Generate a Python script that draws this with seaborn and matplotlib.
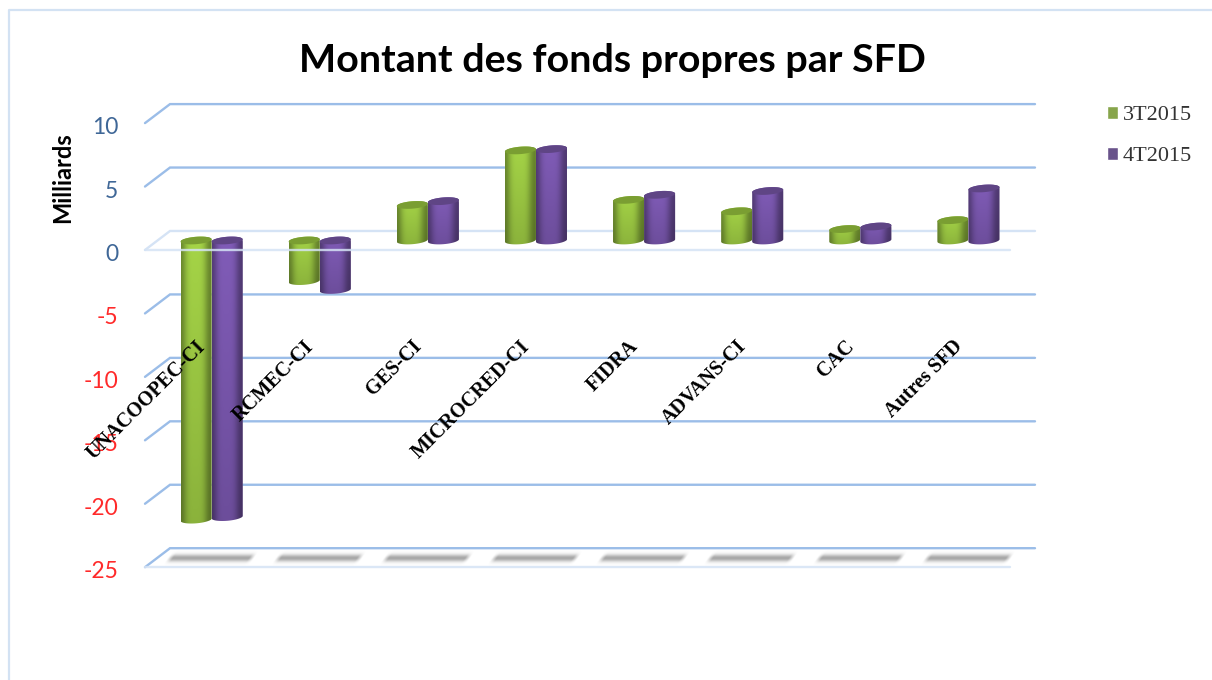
import numpy as np
import pandas as pd
import matplotlib
matplotlib.use('Agg')
import matplotlib.pyplot as plt
from matplotlib.path import Path
from matplotlib.transforms import ScaledTranslation
import seaborn as sns

categories = ['UNACOOPEC-CI', 'RCMEC-CI', 'GES-CI', 'MICROCRED-CI', 'FIDRA', 'ADVANS-CI', 'CAC', 'Autres SFD']
t3_2015 = [-22.0, -3.2, 2.8, 7.1, 3.2, 2.3, 0.9, 1.6]
t4_2015 = [-21.8, -3.9, 3.1, 7.2, 3.6, 3.9, 1.1, 4.1]
y_ticks = [10, 5, 0, -5, -10, -15, -20, -25]

W, H = 1212, 680
BLEU = '#9bbde8'
BLEU_CLAIR = '#d5e3f5'

df = pd.DataFrame({
    'sfd': categories * 2,
    'valeur': t3_2015 + t4_2015,
    'periode': ['3T2015'] * 8 + ['4T2015'] * 8,
})

sns.set_theme(style='white')
plt.rcParams['font.family'] = ['Lato', 'DejaVu Sans']

fig = plt.figure(figsize=(W / 100, H / 100), dpi=100)
# plan median du graphique 3D, en pixels de l'image
gauche, droite, haut, bas = 157.5, 1022.5, 113.6, 557.7
ax = fig.add_axes([gauche / W, 1 - bas / H, (droite - gauche) / W, (bas - haut) / H])

sns.barplot(data=df, x='sfd', y='valeur', hue='periode', order=categories,
            palette={'3T2015': '#8cb43c', '4T2015': '#674a94'},
            width=0.574, gap=0, dodge=True, ax=ax, zorder=3)
ax.set_xlim(-0.5, 7.5)
ax.set_ylim(-25, 10)
sns.despine(ax=ax, left=True, bottom=True, top=True, right=True)
ax.patch.set_alpha(0)
ax.set_xlabel('')

# decalage de profondeur en unites de donnees
dx = 12.5 / 108.1
dy = 9.5 / 12.69

# quadrillage en perspective
for v in y_ticks:
    couleur = BLEU_CLAIR if v == 0 else BLEU
    ax.plot([-0.5 - dx, -0.5 + dx, 7.5 + dx], [v - dy, v + dy, v + dy], color=couleur,
            lw=1.7, clip_on=False, zorder=1, solid_joinstyle='miter')
    if v in (0, -25):
        ax.plot([-0.5 - dx, 7.5 - dx], [v - dy, v - dy], color=BLEU_CLAIR, lw=1.7, alpha=0.85,
                clip_on=False, zorder=6 if v == 0 else 1)

# ombres au sol, legerement cisaillees
rgba = np.zeros((15, 100, 4))
rgba[..., :3] = 0.5
prof = np.exp(-np.linspace(-2.1, 2.1, 15) ** 2)
colonnes = np.arange(100)
for r in range(15):
    bord = np.clip(np.minimum(colonnes - (14 - r) * 0.8, 99 - r * 0.8 - colonnes) / 5, 0, 1)
    rgba[r, :, 3] = prof[r] * bord * 0.7
for i in range(len(categories)):
    ax.imshow(rgba, extent=[i - 0.46, i + 0.44, -25.65, -24.45], aspect='auto', zorder=2,
              interpolation='bilinear', clip_on=False)


def ellipse_pts(xc, v, a, b, k, t):
    return np.column_stack([xc + a * np.cos(t), v + b * np.sin(t) + k * np.cos(t)])


def rampe(base, n=60):
    # degrade horizontal du cylindre, sombre sur les bords
    xs = np.linspace(0, 1, n)
    lum = 0.74 + 0.44 * np.exp(-((xs - 0.45) / 0.36) ** 4)
    ys = np.linspace(1, 0.84, 40)
    img = np.outer(ys, lum)[..., None] * np.array(matplotlib.colors.to_rgb(base))
    return np.clip(img, 0, 1)


couleurs = ['#8cb43c'] * 8 + ['#6d4e9c'] * 8
chapeaux = ['#7a9e32'] * 8 + ['#5f4585'] * 8
barres = [p for p in ax.patches if p.get_width() > 0][:16]
for n, bar in enumerate(barres):
    x0, w, h = bar.get_x(), bar.get_width(), bar.get_height()
    xc = x0 + w / 2
    a = w / 2
    b = 3.7 / 12.69
    k = 1.2 / 12.69
    v_haut = max(h, 0)
    v_bas = min(h, 0)
    t_h = np.linspace(np.pi, 0, 40)
    t_b = np.linspace(0, -np.pi, 40)
    corps = np.vstack([ellipse_pts(xc, v_haut, a, b, k, t_h), ellipse_pts(xc, v_bas, a, b, k, t_b)])
    chemin = Path(np.vstack([corps, corps[0]]), closed=True)
    bar.set_clip_path(chemin, ax.transData)
    z = 3 + 0.1 * n
    bar.set_zorder(z)
    img = ax.imshow(rampe(couleurs[n]), extent=[x0, x0 + w, v_bas - 0.5, v_haut + 0.5], aspect='auto',
                    zorder=z + 0.01, interpolation='bilinear')
    img.set_clip_path(chemin, ax.transData)
    cap = ellipse_pts(xc, v_haut, a, b, k, np.linspace(0, 2 * np.pi, 60))
    ax.fill(cap[:, 0], cap[:, 1], color=chapeaux[n], lw=0, zorder=z + 0.02)
ax.set_xlim(-0.5, 7.5)
ax.set_ylim(-25, 10)

# graduations : labels ramenes sur le plan avant
ax.set_yticks(y_ticks)
ax.set_yticklabels([str(v) for v in y_ticks], fontsize=16.5)
ax.tick_params(axis='y', length=0, pad=28.4)
for lab, v in zip(ax.get_yticklabels(), y_ticks):
    lab.set_color('#ff2a2a' if v < 0 else '#3f6797')
    lab.set_transform(lab.get_transform() + ScaledTranslation(0, -12 / 100, fig.dpi_scale_trans))

ax.set_xticks(range(len(categories)))
ax.set_xticklabels(categories, rotation=45, ha='right', rotation_mode='anchor', family='Liberation Serif',
                   fontweight='bold', fontsize=14.5, color='black')
ax.tick_params(axis='x', length=0, pad=0)
for lab in ax.get_xticklabels():
    lab.set_transform(lab.get_transform() + ScaledTranslation(-0.16, 2.21, fig.dpi_scale_trans))
ax.xaxis.set_zorder(8)

ax.set_ylabel('Milliards', fontsize=17, fontweight='bold', color='black', labelpad=0)
ax.yaxis.set_label_coords((74 - gauche) / (droite - gauche), (bas - 178) / (bas - haut))

fig.text(612 / W, 1 - 60 / H, 'Montant des fonds propres par SFD', ha='center', va='center',
         fontsize=28.4, fontweight='bold', color='black')

leg = ax.legend(loc='upper left', bbox_to_anchor=(1106.5 / W, 1 - 106 / H), bbox_transform=fig.transFigure,
                frameon=False, title=None, prop={'family': 'Liberation Serif', 'size': 16},
                handlelength=0.52, handleheight=0.5, handletextpad=0.2, labelspacing=0.98, borderpad=0, borderaxespad=0)
for t in leg.get_texts():
    t.set_color('#333333')

# cadre du graphique
fig.add_artist(plt.Line2D([8.5 / W, 8.5 / W, 1], [0, 1 - 9.5 / H, 1 - 9.5 / H], color='#d3e2f3', lw=1.6))

fig.savefig('out.png', dpi=100)
